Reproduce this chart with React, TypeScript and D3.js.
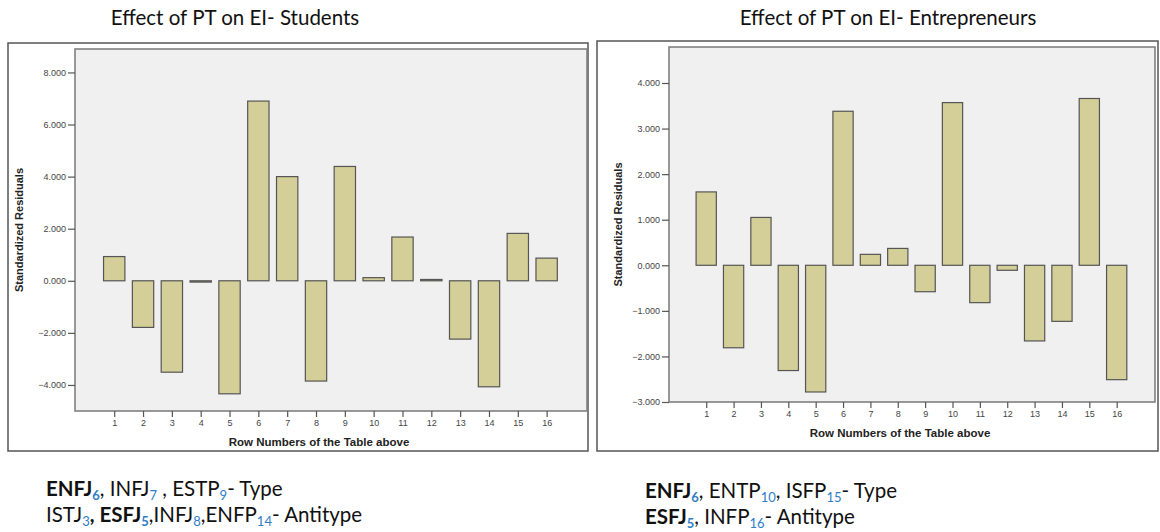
import * as d3 from 'd3';
import { useEffect, useRef } from 'react';

const rows = d3.range(1, 17);
const studentResiduals = [0.93, -1.79, -3.51, -0.05, -4.34, 6.9, 4.0, -3.85, 4.39, 0.12, 1.68, 0.05, -2.24, -4.07, 1.82, 0.87];
const entrepreneurResiduals = [1.61, -1.81, 1.05, -2.31, -2.78, 3.38, 0.24, 0.37, -0.58, 3.57, -0.82, -0.11, -1.66, -1.23, 3.66, -2.51];
const studentTicks = [-4, -2, 0, 2, 4, 6, 8];
const entrepreneurTicks = [-3, -2, -1, 0, 1, 2, 3, 4];

const titles = ['Effect of PT on EI- Students', 'Effect of PT on EI- Entrepreneurs'];

// note lines: [text, bold, subscript]
const studentNotes = [
  [['ENFJ', true, '6'], [', INFJ', false, '7'], [' , ESTP', false, '9'], ['- Type', false, '']],
  [['ISTJ', false, '3'], [', ESFJ', true, '5'], [',INFJ', false, '8'], [',ENFP', false, '14'], ['- Antitype', false, '']],
];
const entrepreneurNotes = [
  [['ENFJ', true, '6'], [', ENTP', false, '10'], [', ISFP', false, '15'], ['- Type', false, '']],
  [['ESFJ', true, '5'], [', INFP', false, '16'], ['- Antitype', false, '']],
];

const panels = [
  {
    title: titles[0], values: studentResiduals, ticks: studentTicks, yDomain: [-5, 8.9],
    frame: { x: 8, y: 43, w: 580, h: 408 },
    plot: { x: 75, y: 49, w: 512, h: 362 },
    titleX: 235, yLabelX: 23, xLabelY: 446,
    notes: studentNotes, noteX: 46, noteY: 496,
  },
  {
    title: titles[1], values: entrepreneurResiduals, ticks: entrepreneurTicks, yDomain: [-3, 4.79],
    frame: { x: 597, y: 41, w: 561, h: 410 },
    plot: { x: 669, y: 47, w: 486, h: 355 },
    titleX: 888, yLabelX: 622, xLabelY: 437,
    notes: entrepreneurNotes, noteX: 645, noteY: 498,
  },
];

const App = () => {
  const svgRef = useRef(null);

  useEffect(() => {
    const svg = d3.select(svgRef.current);
    svg.selectAll('*').remove();

    panels.forEach(p => {
      const g = svg.append('g');

      g.append('text')
        .attr('x', p.titleX)
        .attr('y', 25)
        .attr('text-anchor', 'middle')
        .style('font-family', 'Lato, "Open Sans", sans-serif')
        .style('font-size', '20.5px')
        .style('fill', '#111')
        .text(p.title);

      g.append('rect')
        .attr('x', p.frame.x).attr('y', p.frame.y)
        .attr('width', p.frame.w).attr('height', p.frame.h)
        .style('fill', '#fff')
        .style('stroke', '#555')
        .style('stroke-width', 1.5);

      const x = d3.scaleLinear()
        .domain([-0.36, 17.4])
        .range([p.plot.x, p.plot.x + p.plot.w]);
      const y = d3.scaleLinear()
        .domain(p.yDomain)
        .range([p.plot.y + p.plot.h, p.plot.y]);
      const bw = (x(2) - x(1)) * 0.74;

      g.append('rect')
        .attr('x', p.plot.x).attr('y', p.plot.y)
        .attr('width', p.plot.w).attr('height', p.plot.h)
        .style('fill', '#f0f0f0')
        .style('stroke', '#808080')
        .style('stroke-width', 1.6);

      g.selectAll('.bar')
        .data(p.values)
        .enter()
        .append('rect')
        .attr('class', 'bar')
        .attr('x', (d, i) => x(rows[i]) - bw / 2)
        .attr('y', d => y(Math.max(0, d)))
        .attr('width', bw)
        .attr('height', d => Math.max(1, Math.abs(y(d) - y(0))))
        .style('fill', '#d4cf98')
        .style('stroke', '#555')
        .style('stroke-width', 1.2);

      const yAxis = g.append('g')
        .attr('transform', `translate(${p.plot.x}, 0)`)
        .call(d3.axisLeft(y).tickValues(p.ticks).tickFormat(d3.format('.3f')).tickSize(7).tickPadding(2));
      yAxis.select('.domain').remove();

      const xAxis = g.append('g')
        .attr('transform', `translate(0, ${p.plot.y + p.plot.h})`)
        .call(d3.axisBottom(x).tickValues(rows).tickFormat(d3.format('d')).tickSize(6).tickPadding(3));
      xAxis.select('.domain').remove();

      [yAxis, xAxis].forEach(a => {
        a.selectAll('line').style('stroke', '#555').style('stroke-width', 1.2);
        a.selectAll('text')
          .style('font-family', '"Liberation Sans", Arial, sans-serif')
          .style('font-size', '9px')
          .style('fill', '#444');
      });

      g.append('text')
        .attr('transform', `translate(${p.yLabelX}, ${p.plot.y + p.plot.h / 2}) rotate(-90)`)
        .attr('text-anchor', 'middle')
        .style('font-family', '"Liberation Sans", Arial, sans-serif')
        .style('font-size', '11px')
        .style('font-weight', 'bold')
        .style('fill', '#222')
        .text('Standardized Residuals');

      g.append('text')
        .attr('x', p.plot.x + p.plot.w * 0.5 - 12)
        .attr('y', p.xLabelY)
        .attr('text-anchor', 'middle')
        .style('font-family', '"Liberation Sans", Arial, sans-serif')
        .style('font-size', '11.5px')
        .style('font-weight', 'bold')
        .style('fill', '#222')
        .text('Row Numbers of the Table above');

      p.notes.forEach((line, li) => {
        const t = g.append('text')
          .attr('x', p.noteX)
          .attr('y', p.noteY + li * 26)
          .style('font-family', 'Lato, "Open Sans", sans-serif')
          .style('font-size', '20.5px')
          .style('fill', '#111');
        let shift = 0;
        line.forEach(([txt, bold, sub]) => {
          t.append('tspan')
            .attr('dy', -shift)
            .style('font-weight', bold ? 'bold' : 'normal')
            .text(txt);
          shift = 0;
          if (sub) {
            t.append('tspan')
              .attr('dy', 4)
              .style('font-size', '13px')
              .style('font-weight', bold ? 'bold' : 'normal')
              .style('fill', '#2e7dc6')
              .text(sub);
            shift = 4;
          }
        });
      });
    });
  }, []);

  return (
    <svg ref={svgRef} width={1160} height={532}
      style={{ position: 'absolute', left: 0, top: 0, display: 'block', background: '#fff' }}></svg>
  );
};

export default App;
